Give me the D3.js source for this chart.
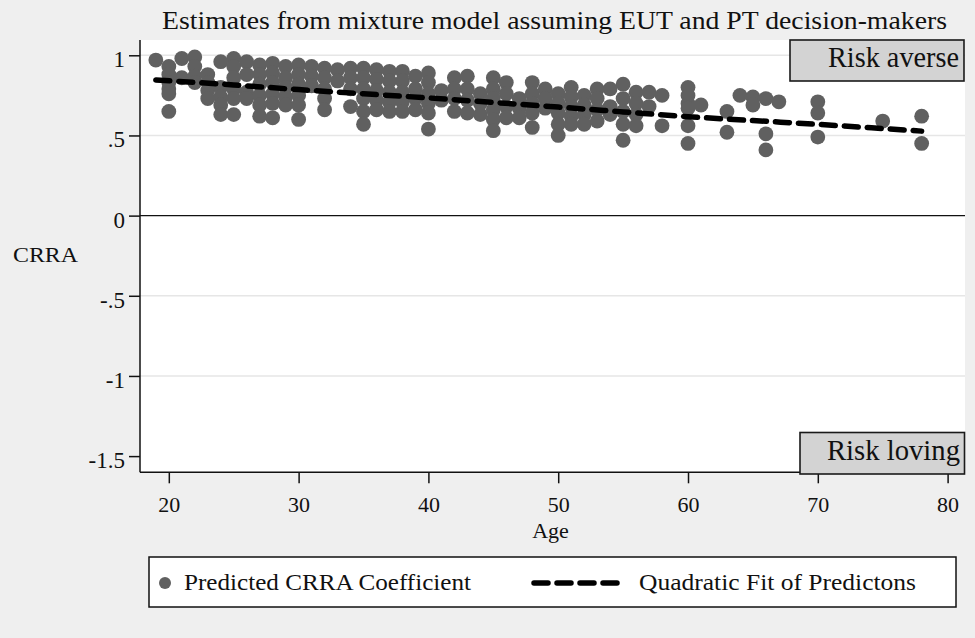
<!DOCTYPE html>
<html>
<head>
<meta charset="utf-8">
<script src="https://cdn.jsdelivr.net/npm/d3@7"></script>
<style>
  body { margin: 0; background: #efefef; }
  svg { display: block; }
  text { font-family: "Liberation Serif", "Times New Roman", serif; fill: #111; }
</style>
</head>
<body>
<svg id="chart" width="975" height="638"></svg>
<script>
// Predicted CRRA coefficients, grouped by respondent age
const ages = [19, 20, 21, 22, 23, 24, 25, 26, 27, 28, 29, 30, 31, 32, 33, 34, 35, 36, 37, 38, 39, 40,
  41, 42, 43, 44, 45, 46, 47, 48, 49, 50, 51, 52, 53, 54, 55, 56, 57, 58, 60, 61, 63, 64, 65, 66, 67, 70, 75, 78];
const crraByAge = [
  [0.97],
  [0.93, 0.88, 0.83, 0.79, 0.76, 0.65],
  [0.98, 0.86],
  [0.99, 0.93, 0.87, 0.83],
  [0.88, 0.83, 0.78, 0.73],
  [0.96, 0.80, 0.74, 0.69, 0.63],
  [0.98, 0.93, 0.86, 0.79, 0.73, 0.63],
  [0.96, 0.88, 0.77, 0.73],
  [0.94, 0.88, 0.82, 0.75, 0.69, 0.62],
  [0.95, 0.89, 0.83, 0.76, 0.70, 0.61],
  [0.93, 0.86, 0.80, 0.74, 0.69],
  [0.94, 0.88, 0.82, 0.75, 0.69, 0.60],
  [0.93, 0.87, 0.81],
  [0.92, 0.86, 0.79, 0.73, 0.66],
  [0.91, 0.84],
  [0.92, 0.86, 0.79, 0.68],
  [0.92, 0.86, 0.79, 0.73, 0.65, 0.57],
  [0.91, 0.85, 0.78, 0.72, 0.66],
  [0.90, 0.84, 0.77, 0.71, 0.65],
  [0.90, 0.84, 0.77, 0.71, 0.65],
  [0.87, 0.79, 0.73, 0.66],
  [0.89, 0.83, 0.76, 0.70, 0.64, 0.54],
  [0.78, 0.72],
  [0.86, 0.79, 0.73, 0.65],
  [0.87, 0.79, 0.72, 0.64],
  [0.76, 0.70, 0.63],
  [0.86, 0.79, 0.73, 0.66, 0.60, 0.53],
  [0.83, 0.76, 0.68, 0.61],
  [0.73, 0.67, 0.61],
  [0.83, 0.76, 0.70, 0.64, 0.55],
  [0.79, 0.73, 0.67],
  [0.76, 0.70, 0.64, 0.57, 0.50],
  [0.80, 0.74, 0.68, 0.62, 0.57],
  [0.75, 0.69, 0.63, 0.57],
  [0.79, 0.73, 0.66, 0.59],
  [0.79, 0.68, 0.63],
  [0.82, 0.73, 0.65, 0.57, 0.47],
  [0.77, 0.70, 0.63, 0.56],
  [0.77, 0.68],
  [0.75, 0.56],
  [0.80, 0.75, 0.70, 0.67, 0.56, 0.45],
  [0.69],
  [0.65, 0.52],
  [0.75],
  [0.74, 0.69],
  [0.73, 0.51, 0.41],
  [0.71],
  [0.71, 0.64, 0.49],
  [0.59],
  [0.62, 0.45]
];

// Quadratic fit of the predictions, read at selected ages
const fitAges = [19, 25, 30, 35, 40, 45, 50, 55, 60, 65, 70, 75, 78];
const fitCrra = [0.846, 0.815, 0.786, 0.760, 0.734, 0.706, 0.677, 0.647, 0.617, 0.593, 0.569, 0.543, 0.527];

// Axis ticks
const xTicks = [20, 30, 40, 50, 60, 70, 80];
const yTicks = [-1.5, -1, -0.5, 0, 0.5, 1];
const yTickLabels = ["-1.5", "-1", "-.5", "0", ".5", "1"];
const gridTicks = [-1, -0.5, 0.5, 1];

const titleText = "Estimates from mixture model assuming EUT and PT decision-makers";
const legendLabels = ["Predicted CRRA Coefficient", "Quadratic Fit of Predictons"];

const serif = '"Liberation Serif", "Times New Roman", serif';

const points = [];
ages.forEach((a, i) => crraByAge[i].forEach(v => points.push({ age: a, crra: v })));
const fit = fitAges.map((a, i) => ({ age: a, crra: fitCrra[i] }));

const svg = d3.select("#chart");
const plot = { left: 140, right: 965, top: 40, bottom: 472.3 };

const x = d3.scaleLinear().domain([17.78, 81.34]).range([plot.left, plot.right]);
const y = d3.scaleLinear().domain([-1.601, 1.0954]).range([plot.bottom, plot.top]);

// Outer background and plot region
svg.append("rect").attr("width", 975).attr("height", 638).attr("fill", "#efefef");
svg.append("rect")
  .attr("x", plot.left).attr("y", plot.top)
  .attr("width", plot.right - plot.left).attr("height", plot.bottom - plot.top)
  .attr("fill", "#ffffff");

// Horizontal grid lines
svg.append("g").selectAll("line").data(gridTicks).join("line")
  .attr("x1", plot.left).attr("x2", plot.right)
  .attr("y1", d => y(d)).attr("y2", d => y(d))
  .attr("stroke", "#e6e6e6").attr("stroke-width", 1.5);

// Reference line at zero
svg.append("line")
  .attr("x1", plot.left).attr("x2", plot.right)
  .attr("y1", y(0)).attr("y2", y(0))
  .attr("stroke", "#111").attr("stroke-width", 1.2);

// Scatter of predicted coefficients
svg.append("g").selectAll("circle").data(points).join("circle")
  .attr("cx", d => x(d.age)).attr("cy", d => y(d.crra))
  .attr("r", 7.4).attr("fill", "#606060");

// Fitted curve
const line = d3.line().x(d => x(d.age)).y(d => y(d.crra)).curve(d3.curveMonotoneX);
svg.append("path").datum(fit)
  .attr("d", line)
  .attr("fill", "none").attr("stroke", "#000").attr("stroke-width", 5.5)
  .attr("stroke-dasharray", "14,9").attr("stroke-linecap", "round");

// Axes
const yAxis = d3.axisLeft(y).tickValues(yTicks)
  .tickFormat((d, i) => yTickLabels[i]).tickSize(11).tickPadding(4);
const gy = svg.append("g").attr("transform", `translate(${plot.left},0)`).call(yAxis);
gy.attr("font-family", null);
gy.select(".domain").attr("stroke", "#111").attr("stroke-width", 1.5)
  .attr("d", `M0,${plot.top}V${plot.bottom}`);
gy.selectAll(".tick line").attr("stroke", "#111").attr("stroke-width", 1.5);
gy.selectAll(".tick text").attr("dy", "0.5em")
  .style("font-family", serif).style("font-size", "23px").style("fill", "#111");

const xAxis = d3.axisBottom(x).tickValues(xTicks).tickFormat(d3.format("d")).tickSize(11);
const gx = svg.append("g").attr("transform", `translate(0,${plot.bottom})`).call(xAxis);
gx.attr("font-family", null);
gx.select(".domain").attr("stroke", "#111").attr("stroke-width", 1.5)
  .attr("d", `M${plot.left},0H${plot.right}`);
gx.selectAll(".tick line").attr("stroke", "#111").attr("stroke-width", 1.5);
gx.selectAll(".tick text").attr("y", 39.5).attr("dy", 0)
  .style("font-family", serif).style("font-size", "22px").style("fill", "#111");

// Titles
svg.append("text").attr("x", 162).attr("y", 28.5)
  .style("font-size", "25px").attr("textLength", 785).attr("lengthAdjust", "spacingAndGlyphs")
  .text(titleText);
svg.append("text").attr("x", 550.5).attr("y", 537.5).attr("text-anchor", "middle")
  .style("font-size", "22px").text("Age");
svg.append("text").attr("x", 13).attr("y", 262)
  .style("font-size", "22px").attr("textLength", 65).attr("lengthAdjust", "spacingAndGlyphs")
  .text("CRRA");

// Region annotations
function regionBox(bx, by, bw, bh, tx, ty, tw, label) {
  svg.append("rect").attr("x", bx).attr("y", by).attr("width", bw).attr("height", bh)
    .attr("fill", "#d3d3d3").attr("stroke", "#1a1a1a").attr("stroke-width", 1.6);
  svg.append("text").attr("x", tx).attr("y", ty).style("font-size", "29px")
    .attr("textLength", tw).attr("lengthAdjust", "spacingAndGlyphs").text(label);
}
regionBox(790, 40, 174, 41, 828, 67, 131, "Risk averse");
regionBox(800, 432.5, 164.5, 41.5, 827, 460, 133, "Risk loving");

// Legend
const lg = svg.append("g");
lg.append("rect").attr("x", 149).attr("y", 557).attr("width", 807).attr("height", 50)
  .attr("fill", "#fff").attr("stroke", "#111").attr("stroke-width", 1.5);
lg.append("circle").attr("cx", 165).attr("cy", 583).attr("r", 6).attr("fill", "#606060");
lg.append("text").attr("x", 184).attr("y", 589.5).style("font-size", "24px")
  .attr("textLength", 287).attr("lengthAdjust", "spacingAndGlyphs").text(legendLabels[0]);
lg.append("line").attr("x1", 534).attr("x2", 621).attr("y1", 583).attr("y2", 583)
  .attr("stroke", "#000").attr("stroke-width", 5.5)
  .attr("stroke-dasharray", "14,9").attr("stroke-linecap", "round");
lg.append("text").attr("x", 639).attr("y", 589.5).style("font-size", "24px")
  .attr("textLength", 277).attr("lengthAdjust", "spacingAndGlyphs").text(legendLabels[1]);
</script>
</body>
</html>
